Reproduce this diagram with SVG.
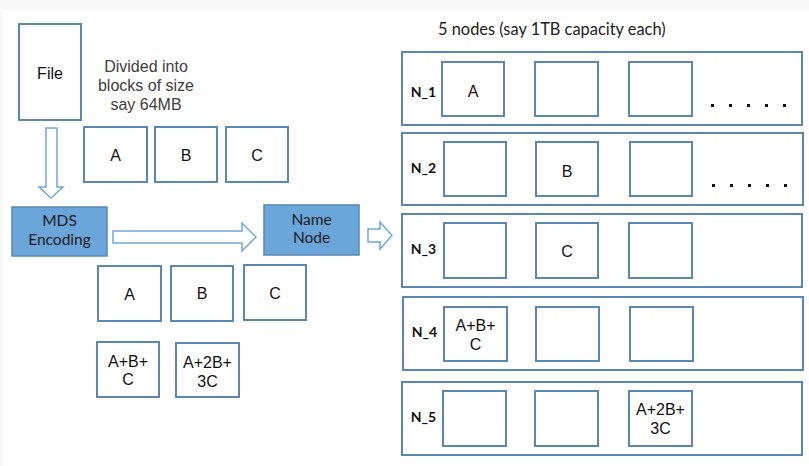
<svg xmlns="http://www.w3.org/2000/svg" width="809" height="466" viewBox="0 0 809 466">
<style>
.b{fill:#fff;stroke:#5a88b3;stroke-width:2}
.f{fill:#6aa6da;stroke:#5a88b3;stroke-width:1.5}
.ar{fill:#fff;stroke:#6fa8dc;stroke-width:1.5}
.t{font-family:"Liberation Sans",Arial,sans-serif;font-size:16px;fill:#111;text-anchor:middle}
.g{font-family:"Liberation Sans",Arial,sans-serif;font-size:16px;fill:#404040;text-anchor:middle}
.c{font-family:Lato,"Open Sans",sans-serif;font-size:15.5px;fill:#1a1a1a;text-anchor:middle}
.n{font-family:Lato,"Open Sans",sans-serif;font-size:14px;font-weight:bold;fill:#111;text-anchor:middle}
.d{fill:#111}
</style>
<rect width="809" height="466" fill="#f8f8f8"/>
<rect x="3" y="10" width="806" height="456" fill="#fff"/>
<g id="connectors">
<path class="ar" d="M46,128 H57 V187 H63 L51,198 L39,187 H46 Z"/>
<path class="ar" d="M113,231 H242 V223 L256,237 L242,251 V243 H113 Z"/>
<path class="ar" d="M368,229 H380 V222 L392,235.5 L380,249 V242 H368 Z"/>
</g>
<g id="file"><rect class="b" x="19" y="24" width="62" height="96"/><text class="t" x="50" y="79">File</text></g>
<g id="divided-label"><text class="g"><tspan x="146" y="72">Divided into</tspan><tspan x="146" y="91">blocks of size</tspan><tspan x="146" y="110">say 64MB</tspan></text></g>
<g id="blockA"><rect class="b" x="84" y="127" width="63" height="55"/><text class="t" x="115.5" y="161">A</text></g>
<g id="blockB"><rect class="b" x="155" y="127" width="62" height="55"/><text class="t" x="186" y="161">B</text></g>
<g id="blockC"><rect class="b" x="226" y="127" width="62" height="55"/><text class="t" x="257" y="161">C</text></g>
<g id="mds"><rect class="f" x="12" y="207" width="95" height="49"/><text class="c"><tspan x="59.5" y="226">MDS</tspan><tspan x="59.5" y="245">Encoding</tspan></text></g>
<g id="namenode"><rect class="f" x="264" y="205" width="95" height="50"/><text class="c"><tspan x="311.5" y="225">Name</tspan><tspan x="311.5" y="243">Node</tspan></text></g>
<g id="encA"><rect class="b" x="98" y="266" width="63" height="55"/><text class="t" x="129.5" y="300">A</text></g>
<g id="encB"><rect class="b" x="171" y="266" width="62" height="55"/><text class="t" x="202" y="299">B</text></g>
<g id="encC"><rect class="b" x="244" y="265" width="62" height="55"/><text class="t" x="275" y="299">C</text></g>
<g id="encP1"><rect class="b" x="97" y="342" width="62" height="55"/><text class="t"><tspan x="128" y="367">A+B+</tspan><tspan x="128" y="385">C</tspan></text></g>
<g id="encP2"><rect class="b" x="176" y="343" width="63" height="54"/><text class="t"><tspan x="207.5" y="368">A+2B+</tspan><tspan x="207.5" y="387">3C</tspan></text></g>
<g id="title"><text class="c" x="438" y="35" style="fill:#222;text-anchor:start;font-size:16.4px">5 nodes (say 1TB capacity each)</text></g>
<g id="N_1">
<rect class="b" x="402" y="52" width="400" height="73"/><text class="n" x="423.5" y="97">N_1</text>
<rect class="b" x="442" y="62" width="62" height="54"/><rect class="b" x="535" y="62" width="63" height="54"/><rect class="b" x="629" y="62" width="63" height="54"/>
<text class="t" x="473" y="97">A</text>
<rect class="d" x="711" y="104" width="3" height="3"/><rect class="d" x="729" y="104" width="3" height="3"/><rect class="d" x="747" y="104" width="3" height="3"/><rect class="d" x="765" y="104" width="3" height="3"/><rect class="d" x="783" y="104" width="3" height="3"/>
</g>
<g id="N_2">
<rect class="b" x="402" y="133" width="401" height="72"/><text class="n" x="423.5" y="173">N_2</text>
<rect class="b" x="444" y="142" width="62" height="54"/><rect class="b" x="536" y="142" width="62" height="54"/><rect class="b" x="630" y="142" width="62" height="54"/>
<text class="t" x="567" y="177">B</text>
<rect class="d" x="712" y="184" width="3" height="3"/><rect class="d" x="730" y="184" width="3" height="3"/><rect class="d" x="748" y="184" width="3" height="3"/><rect class="d" x="766" y="184" width="3" height="3"/><rect class="d" x="784" y="184" width="3" height="3"/>
</g>
<g id="N_3">
<rect class="b" x="402" y="214" width="400" height="73"/><text class="n" x="423.5" y="254">N_3</text>
<rect class="b" x="444" y="223" width="62" height="55"/><rect class="b" x="536" y="223" width="62" height="55"/><rect class="b" x="629" y="223" width="63" height="55"/>
<text class="t" x="567" y="257">C</text>
</g>
<g id="N_4">
<rect class="b" x="403" y="297" width="400" height="73"/><text class="n" x="424.5" y="337">N_4</text>
<rect class="b" x="444" y="307" width="63" height="54"/><rect class="b" x="536" y="307" width="63" height="54"/><rect class="b" x="630" y="307" width="63" height="54"/>
<text class="t"><tspan x="475.5" y="331">A+B+</tspan><tspan x="475.5" y="350">C</tspan></text>
</g>
<g id="N_5">
<rect class="b" x="402" y="382" width="400" height="73"/><text class="n" x="423.5" y="422">N_5</text>
<rect class="b" x="443" y="391" width="63" height="55"/><rect class="b" x="535" y="391" width="63" height="55"/><rect class="b" x="629" y="391" width="63" height="55"/>
<text class="t"><tspan x="660.5" y="415">A+2B+</tspan><tspan x="660.5" y="434">3C</tspan></text>
</g>
</svg>
